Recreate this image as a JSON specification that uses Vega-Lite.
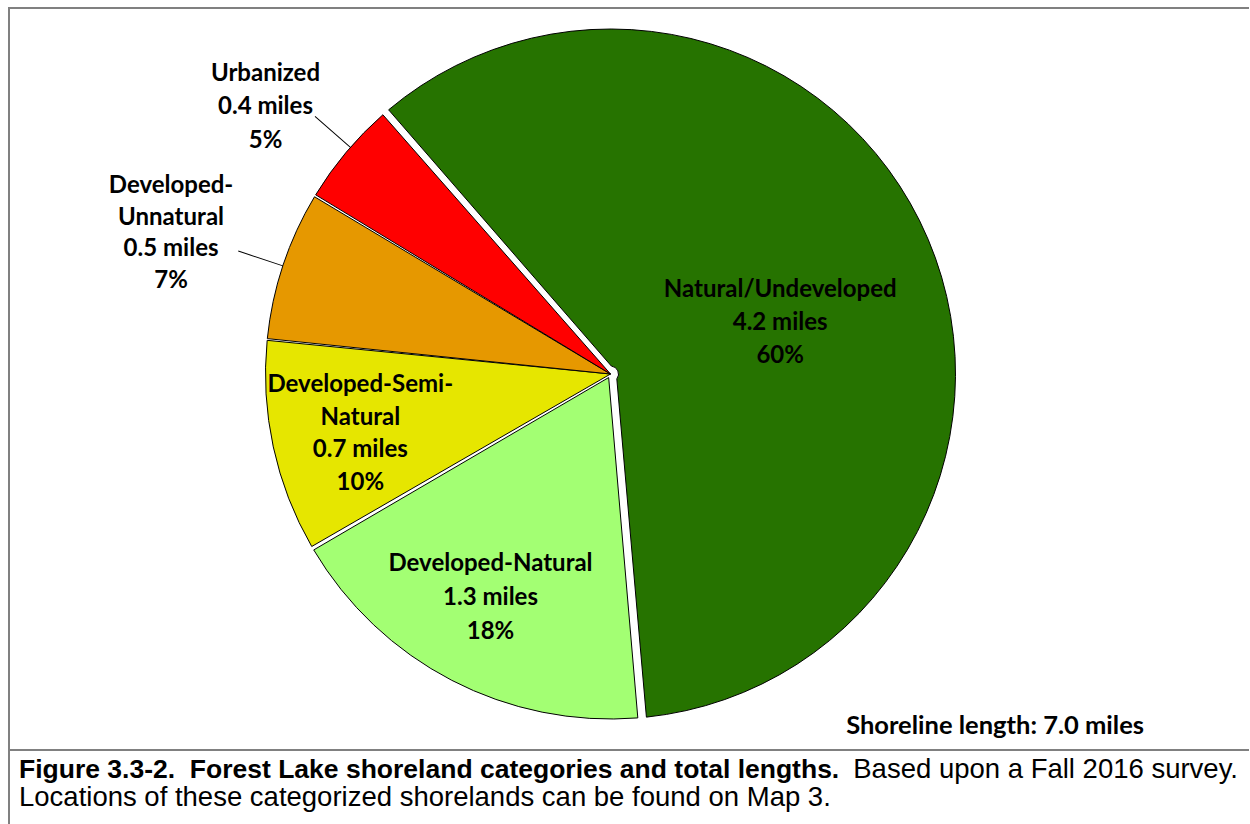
{
  "$schema": "https://vega.github.io/schema/vega-lite/v6.json",
  "padding": {"left": 8, "top": 7, "right": 0, "bottom": 0},
  "spacing": 0,
  "bounds": "flush",
  "background": "white",
  "config": {"view": {"stroke": null}},
  "datasets": {
    "shore": [
      {"cat": "Natural/Undeveloped", "miles": 4.2, "pct": 60, "ord": 1, "label": "Natural/Undeveloped\n4.2 miles\n60%"},
      {"cat": "Developed-Natural", "miles": 1.3, "pct": 18, "ord": 2, "label": "Developed-Natural\n1.3 miles\n18%"},
      {"cat": "Developed-Semi-Natural", "miles": 0.7, "pct": 10, "ord": 3, "label": "Developed-Semi-\nNatural\n0.7 miles\n10%"},
      {"cat": "Developed-Unnatural", "miles": 0.5, "pct": 7, "ord": 4, "label": "Developed-\nUnnatural\n0.5 miles\n7%"},
      {"cat": "Urbanized", "miles": 0.4, "pct": 5, "ord": 5, "label": "Urbanized\n0.4 miles\n5%"}
    ],
    "leaders": [
      {"cat": "Developed-Unnatural", "ang": 288.2, "ang2": 288.35},
      {"cat": "Urbanized", "ang": 311.0, "ang2": 311.15}
    ]
  },
  "vconcat": [
    {
      "width": 1240,
      "height": 742,
      "view": {"stroke": "#808080", "strokeWidth": 2, "strokeDash": [1240, 1982, 742]},
      "resolve": {"scale": {"theta": "independent"}},
      "layer": [
        {
          "data": {"name": "shore"},
          "mark": {"type": "arc", "outerRadius": 345, "stroke": "black", "strokeWidth": 1,
                   "padAngle": {"expr": "datum.cat === 'Natural/Undeveloped' ? 0.034 : datum.cat === 'Developed-Natural' ? 0.016 : datum.cat === 'Developed-Semi-Natural' ? 0.007 : datum.cat === 'Urbanized' ? 0.01 : 0.003"},
                   "innerRadius": {"expr": "datum.cat === 'Natural/Undeveloped' ? 8 : datum.cat === 'Developed-Natural' ? 4 : 0"},
                   "x": 601.5, "y": 366},
          "encoding": {
            "theta": {"field": "pct", "type": "quantitative", "stack": true, "scale": {"domain": [0, 100], "range": [-0.7156, 5.5676]}},
            "order": {"field": "ord", "type": "quantitative"},
            "color": {"field": "cat", "type": "nominal", "legend": null,
              "scale": {"domain": ["Natural/Undeveloped", "Developed-Natural", "Developed-Semi-Natural", "Developed-Unnatural", "Urbanized"],
                        "range": ["#267300", "#A3FF73", "#E6E600", "#E69800", "#FF0000"]}}
          }
        },
        {
          "data": {"name": "leaders"},
          "mark": {"type": "arc", "radius": 392, "radius2": 345, "fill": "black", "stroke": null, "x": 601.5, "y": 366},
          "encoding": {
            "theta": {"field": "ang", "type": "quantitative", "stack": null, "scale": {"domain": [0, 360], "range": [0, 6.283185]}},
            "theta2": {"field": "ang2"}
          }
        },
        {
          "data": {"name": "shore"},
          "mark": {"type": "text", "font": "Lato", "fontWeight": "bold", "fontSize": 24, "lineHeight": 33, "lineBreak": "\n", "align": "center", "baseline": "middle", "color": "black", "radius": 180, "dx": 4, "dy": -14, "x": 601.5, "y": 366},
          "encoding": {
            "theta": {"field": "pct", "type": "quantitative", "stack": true, "scale": {"domain": [0, 100], "range": [-0.7156, 5.5676]}},
            "order": {"field": "ord", "type": "quantitative"},
            "detail": {"field": "cat", "type": "nominal"},
            "text": {"condition": {"test": "datum.cat === 'Natural/Undeveloped'", "field": "label", "type": "nominal"}, "value": ""}
          }
        },
        {
          "data": {"name": "shore"},
          "mark": {"type": "text", "font": "Lato", "fontWeight": "bold", "fontSize": 24, "lineHeight": 34, "lineBreak": "\n", "align": "center", "baseline": "middle", "color": "black", "radius": 252, "dx": -4, "dy": -34, "x": 601.5, "y": 366},
          "encoding": {
            "theta": {"field": "pct", "type": "quantitative", "stack": true, "scale": {"domain": [0, 100], "range": [-0.7156, 5.5676]}},
            "order": {"field": "ord", "type": "quantitative"},
            "detail": {"field": "cat", "type": "nominal"},
            "text": {"condition": {"test": "datum.cat === 'Developed-Natural'", "field": "label", "type": "nominal"}, "value": ""}
          }
        },
        {
          "data": {"name": "shore"},
          "mark": {"type": "text", "font": "Lato", "fontWeight": "bold", "fontSize": 24, "lineHeight": 32.5, "lineBreak": "\n", "align": "center", "baseline": "middle", "color": "black", "radius": 257, "dx": 1, "dy": -43, "x": 601.5, "y": 366},
          "encoding": {
            "theta": {"field": "pct", "type": "quantitative", "stack": true, "scale": {"domain": [0, 100], "range": [-0.7156, 5.5676]}},
            "order": {"field": "ord", "type": "quantitative"},
            "detail": {"field": "cat", "type": "nominal"},
            "text": {"condition": {"test": "datum.cat === 'Developed-Semi-Natural'", "field": "label", "type": "nominal"}, "value": ""}
          }
        },
        {
          "data": {"name": "shore"},
          "mark": {"type": "text", "font": "Lato", "fontWeight": "bold", "fontSize": 24, "lineHeight": 31.5, "lineBreak": "\n", "align": "center", "baseline": "middle", "color": "black", "radius": 461, "dx": -2, "dy": -42, "x": 601.5, "y": 366},
          "encoding": {
            "theta": {"field": "pct", "type": "quantitative", "stack": true, "scale": {"domain": [0, 100], "range": [-0.7156, 5.5676]}},
            "order": {"field": "ord", "type": "quantitative"},
            "detail": {"field": "cat", "type": "nominal"},
            "text": {"condition": {"test": "datum.cat === 'Developed-Unnatural'", "field": "label", "type": "nominal"}, "value": ""}
          }
        },
        {
          "data": {"name": "shore"},
          "mark": {"type": "text", "font": "Lato", "fontWeight": "bold", "fontSize": 24, "lineHeight": 33.5, "lineBreak": "\n", "align": "center", "baseline": "middle", "color": "black", "radius": 436, "dx": -11, "dy": -20, "x": 601.5, "y": 366},
          "encoding": {
            "theta": {"field": "pct", "type": "quantitative", "stack": true, "scale": {"domain": [0, 100], "range": [-0.7156, 5.5676]}},
            "order": {"field": "ord", "type": "quantitative"},
            "detail": {"field": "cat", "type": "nominal"},
            "text": {"condition": {"test": "datum.cat === 'Urbanized'", "field": "label", "type": "nominal"}, "value": ""}
          }
        },
        {
          "data": {"values": [{"t": "Shoreline length: 7.0 miles"}]},
          "mark": {"type": "text", "font": "Lato", "fontWeight": "bold", "fontSize": 25.5, "align": "right", "baseline": "alphabetic", "color": "black", "x": 1135, "y": 726},
          "encoding": {"text": {"field": "t", "type": "nominal"}}
        }
      ]
    },
    {
      "width": 1240,
      "height": 74,
      "view": {"stroke": "#808080", "strokeWidth": 2, "strokeDash": [1240, 1314, 74]},
      "layer": [
        {
          "data": {"values": [{"t": "Figure 3.3-2.\u00a0 Forest Lake shoreland categories and total lengths."}]},
          "mark": {"type": "text", "font": "Liberation Sans", "fontWeight": "bold", "fontSize": 26.5, "align": "left", "baseline": "alphabetic", "color": "black", "x": 10, "y": 28},
          "encoding": {"text": {"field": "t", "type": "nominal"}}
        },
        {
          "data": {"values": [{"t": "Based upon a Fall 2016 survey."}]},
          "mark": {"type": "text", "font": "Liberation Sans", "fontSize": 27.5, "align": "right", "baseline": "alphabetic", "color": "black", "x": 1229, "y": 28},
          "encoding": {"text": {"field": "t", "type": "nominal"}}
        },
        {
          "data": {"values": [{"t": "Locations of these categorized shorelands can be found on Map 3."}]},
          "mark": {"type": "text", "font": "Liberation Sans", "fontSize": 27.5, "align": "left", "baseline": "alphabetic", "color": "black", "x": 10, "y": 56},
          "encoding": {"text": {"field": "t", "type": "nominal"}}
        }
      ]
    }
  ]
}
